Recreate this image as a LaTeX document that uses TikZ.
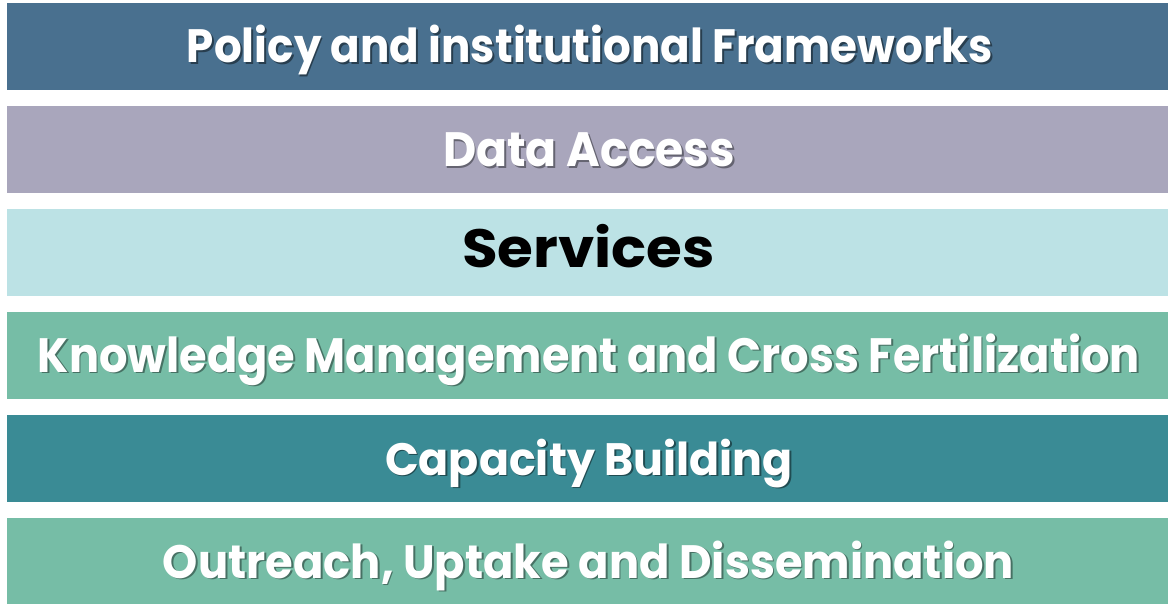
\documentclass[tikz,border=0pt]{standalone}
\usepackage{fontspec}
\setmainfont{Poppins}
\usepackage{graphicx}
\definecolor{bandA}{HTML}{49708F}
\definecolor{bandB}{HTML}{A9A6BC}
\definecolor{bandC}{HTML}{BCE2E5}
\definecolor{bandD}{HTML}{76BDA6}
\definecolor{bandE}{HTML}{3A8B95}
\newlength\fitw
\newlength\fith
% #1 width, #2 cap height, #3 shadow colour, #4 text colour, #5 text
\newcommand\fitlabel[5]{{\bfseries\fontsize{40}{48}\selectfont
  \sbox0{#5}\setlength\fitw{\wd0}\setlength\fith{\fontcharht\font`H}%
  \pgfmathsetmacro\fitsx{#1/\fitw}\pgfmathsetmacro\fitsy{#2/\fith}%
  \rlap{\hspace{1.8bp}\raisebox{-1.8bp}{\scalebox{\fitsx}[\fitsy]{\color{#3}#5}}}%
  \scalebox{\fitsx}[\fitsy]{\color{#4}#5}}}
\tikzset{
  band/.style={fill=#1, draw=none},
  lbl/.style={anchor=base, inner sep=0pt},
}
\begin{document}
\begin{tikzpicture}[x=1bp,y=-1bp]
\useasboundingbox (0,0) rectangle (1168,604);
\fill[white] (0,0) rectangle (1168,604);
\path[band=bandA] (7,3) rectangle (1168,90);
\path[band=bandB] (7,106) rectangle (1168,193);
\path[band=bandC] (7,209) rectangle (1168,296);
\path[band=bandD] (7,312) rectangle (1168,399);
\path[band=bandE] (7,415) rectangle (1168,502);
\path[band=bandD] (7,518) rectangle (1168,605);
\node[lbl] (t1) at (590,63) {\fitlabel{806bp}{33bp}{bandA!55!black}{white}{Policy and institutional Frameworks}};
\node[lbl] (t2) at (589,167) {\fitlabel{292bp}{34bp}{bandB!60!black}{white}{Data Access}};
\node[lbl] (t3) at (588.5,268) {\fitlabel{253bp}{38bp}{bandC}{black}{Services}};
\node[lbl] (t4) at (589,372) {\fitlabel{1102bp}{34bp}{bandD!60!black}{white}{Knowledge Management and Cross Fertilization}};
\node[lbl] (t5) at (589,475) {\fitlabel{408bp}{32bp}{bandE!55!black}{white}{Capacity Building}};
\node[lbl] (t6) at (588.5,578) {\fitlabel{851bp}{33bp}{bandD!60!black}{white}{Outreach, Uptake and Dissemination}};
\end{tikzpicture}
\end{document}
